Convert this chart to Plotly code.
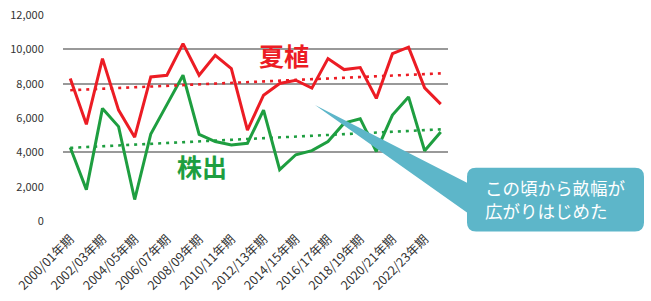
import plotly.graph_objects as go

# ---- data ----
seasons = [f"{y}/{str(y + 1)[-2:]}年期" for y in range(2000, 2024)]
natsuue = [8300, 5630, 9460, 6460, 4880, 8390, 8490, 10330, 8490, 9650, 8880, 5300,
           7330, 8010, 8200, 7740, 9460, 8820, 8940, 7140, 9750, 10130, 7760, 6810]
kabude = [4280, 1830, 6560, 5500, 1250, 5070, 6780, 8490, 5050, 4630, 4430, 4530,
          6460, 2990, 3860, 4100, 4630, 5700, 5960, 4050, 6170, 7230, 4090, 5180]
# linear trend lines (start / end values)
natsuue_trend = [7620, 8600]
kabude_trend = [4260, 5340]
y_ticks = [0, 2000, 4000, 6000, 8000, 10000, 12000]
y_ticktext = ["0", "2,000", "4,000", "6,000", "8,000", "10,000", "12,000"]
grid_vals = [4000, 8000, 10000]
x_ticks = seasons[::2]
label_natsu = "夏植"
label_kabu = "株出"
callout_text = "この頃から畝幅が<br>広がりはじめた"

RED = "#EC1C24"
GREEN = "#1E9E40"
TEAL = "#5DB6C9"

W, H = 651, 301
L, R, T, B = 63, 203, 14.5, 79.5
pw, ph = W - L - R, H - T - B


def px(x, y):
    return (x - L) / pw, (H - B - y) / ph


trend_x = [seasons[0], seasons[-1]]

fig = go.Figure()
fig.add_trace(go.Scatter(x=trend_x, y=natsuue_trend, mode="lines",
                         line=dict(color=RED, width=2.6, dash="3px,5px"), yaxis="y2"))
fig.add_trace(go.Scatter(x=trend_x, y=kabude_trend, mode="lines",
                         line=dict(color=GREEN, width=2.6, dash="3px,5px"), yaxis="y2"))
fig.add_trace(go.Scatter(x=seasons, y=natsuue, mode="lines",
                         line=dict(color=RED, width=3), yaxis="y"))
fig.add_trace(go.Scatter(x=seasons, y=kabude, mode="lines",
                         line=dict(color=GREEN, width=3), yaxis="y"))

# callout shape
bx0, by0, bx1, by1, r = 467, 168, 644, 232, 9
tip = (315, 105)
wu, wl = 183, 213


def P(x, y):
    a, b = px(x, y)
    return f"{a:.5f},{b:.5f}"


path = (f"M {P(bx0 + r, by0)} L {P(bx1 - r, by0)} Q {P(bx1, by0)} {P(bx1, by0 + r)} "
        f"L {P(bx1, by1 - r)} Q {P(bx1, by1)} {P(bx1 - r, by1)} "
        f"L {P(bx0 + r, by1)} Q {P(bx0, by1)} {P(bx0, by1 - r)} "
        f"L {P(bx0, wl)} L {P(*tip)} L {P(bx0, wu)} "
        f"L {P(bx0, by0 + r)} Q {P(bx0, by0)} {P(bx0 + r, by0)} Z")
fig.add_shape(type="path", path=path, xref="paper", yref="paper",
              fillcolor=TEAL, line=dict(width=0), layer="above")

ax, ay = px(555, 199)
fig.add_annotation(x=ax, y=ay, xref="paper", yref="paper", text=callout_text,
                   showarrow=False, align="left", xanchor="center", yanchor="middle",
                   font=dict(family="Noto Sans CJK JP", size=17.5, color="white"))
nx, ny = px(284, 55)
fig.add_annotation(x=nx, y=ny, xref="paper", yref="paper", text=f"<b>{label_natsu}</b>",
                   showarrow=False, xanchor="center", yanchor="middle",
                   font=dict(family="Noto Sans CJK JP", size=25, color=RED))
kx, ky = px(202, 166)
fig.add_annotation(x=kx, y=ky, xref="paper", yref="paper", text=f"<b>{label_kabu}</b>",
                   showarrow=False, xanchor="center", yanchor="middle",
                   font=dict(family="Noto Sans CJK JP", size=25, color=GREEN))

fig.update_layout(
    width=W, height=H,
    margin=dict(l=L, r=R, t=T, b=B, pad=0, autoexpand=False),
    paper_bgcolor="white", plot_bgcolor="white",
    showlegend=False,
    font=dict(family="Noto Sans CJK JP", color="#333333"),
    xaxis=dict(type="category", categoryorder="array", categoryarray=seasons,
               range=[-0.45, 23.45], tickvals=x_ticks, ticktext=x_ticks,
               tickangle=-45, showgrid=False, zeroline=False, showline=False,
               automargin=False,
               ticks="outside", ticklen=5, tickcolor="rgba(0,0,0,0)",
               tickfont=dict(size=12.5, color="#333333")),
    yaxis=dict(range=[0, 12000], tickvals=y_ticks, ticktext=y_ticktext,
               showgrid=False, zeroline=False, showline=False, automargin=False,
               ticks="outside", ticklen=16, tickcolor="rgba(0,0,0,0)",
               tickfont=dict(size=11, color="#333333")),
    yaxis2=dict(range=[0, 12000], overlaying="y", side="left", tickvals=grid_vals,
                showticklabels=False, showgrid=True, gridcolor="#999999", gridwidth=1.5,
                zeroline=False, showline=False, ticks="", automargin=False),
)

fig.write_html("out.html")
